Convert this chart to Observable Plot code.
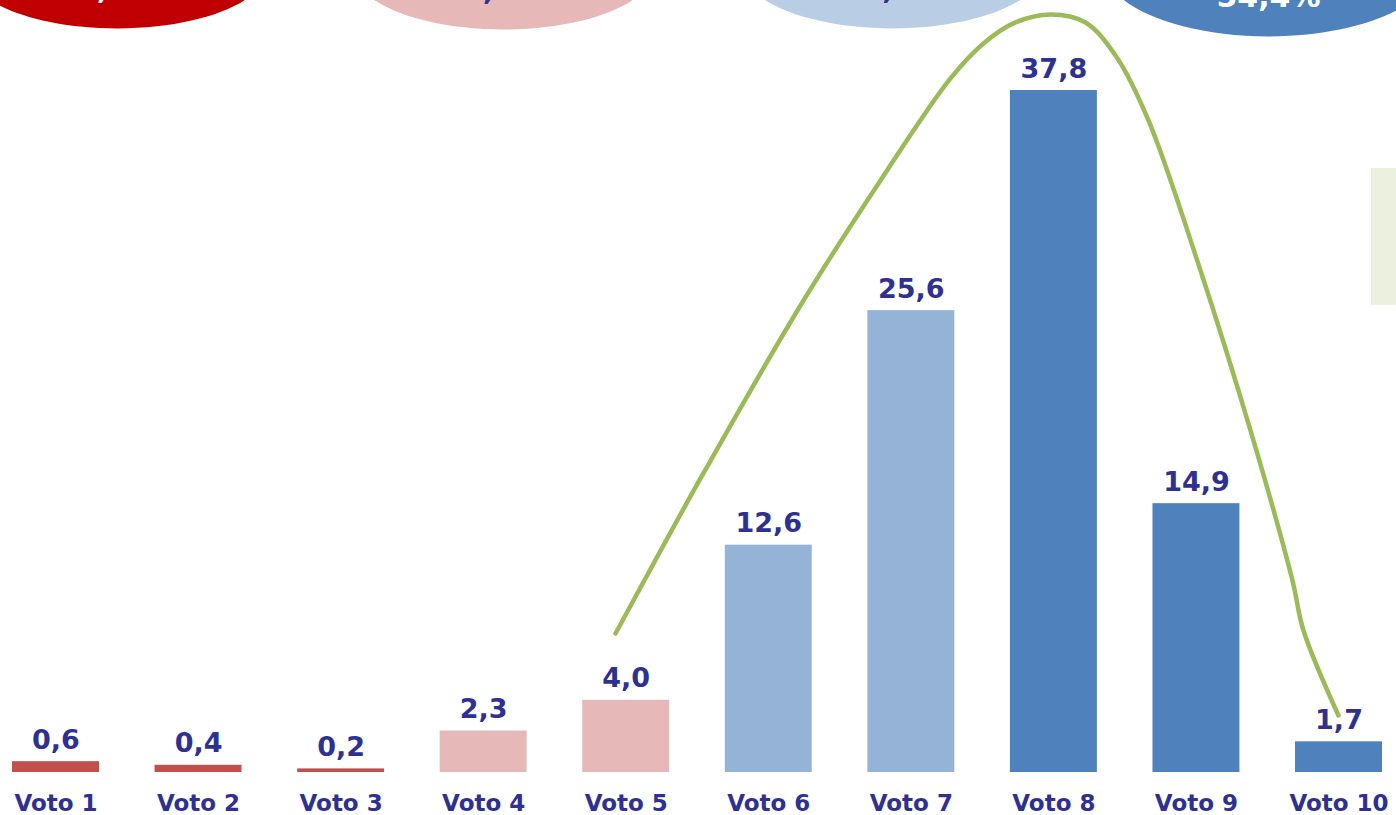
<!DOCTYPE html>
<html>
<head>
<meta charset="utf-8">
<script src="https://cdn.jsdelivr.net/npm/d3@7"></script>
<script src="https://cdn.jsdelivr.net/npm/@observablehq/plot@0.6"></script>
<style>
  html, body { margin: 0; padding: 0; background: #ffffff; overflow: hidden; }
  #chart svg { overflow: hidden; display: block; }
</style>
</head>
<body>
<div id="chart"></div>
<script>
// ---- data ----
const votes = ["Voto 1", "Voto 2", "Voto 3", "Voto 4", "Voto 5", "Voto 6", "Voto 7", "Voto 8", "Voto 9", "Voto 10"];
const values = [0.6, 0.4, 0.2, 2.3, 4.0, 12.6, 25.6, 37.8, 14.9, 1.7];
const groups = ["g1", "g1", "g1", "g2", "g2", "g3", "g3", "g4", "g4", "g4"];
const groupNames = ["g1", "g2", "g3", "g4"];
// hand-drawn green annotation curve, in (vote position, percent) units
const curveVoto = [4.925, 5.0505, 5.5209, 6.2224, 6.7835, 7.2746, 7.5060, 7.7305, 7.9760, 8.2215, 8.4460, 8.6634, 9.0282, 9.3789, 9.6735, 9.7507, 9.9962];
const curvePct  = [7.705, 9.534, 16.297, 25.887, 32.816, 38.470, 40.410, 41.574, 42.018, 41.574, 39.579, 36.142, 27.827, 18.958, 10.643, 7.871, 3.160];

// ---- derived tables ----
const fmt = v => d3.format(".1f")(v).replace(".", ",");
const bars = votes.map((v, i) => ({label: v, pos: i + 1, value: values[i], group: groups[i]}));
const totals = groupNames.map(g => d3.sum(bars.filter(b => b.group === g), b => b.value));
const curve = curveVoto.map((x, i) => ({x, y: curvePct[i]}));

// ---- styling / layout ----
const barColors = ["#c0504d", "#e6b9b8", "#95b3d7", "#4f81bd"];
const ellipseColors = ["#c00000", "#e6b9b8", "#b9cde5", "#4f81bd"];
const ellipseText = ["#ffffff", "#2e3192", "#2e3192", "#ffffff"];
const ellipseX = [1.431, 4.139, 6.868, 9.505];
const ellipseY = [44.57, 44.51, 44.57, 44.68];
const ellipseA = [150, 150, 150, 165];
const ellipseB = [60, 60, 60, 70];
const ellipseDy = [31, 31, 31, 41];
const navy = "#2e3192";
const half = 0.305;

function ellipse(a, b) {
  const k = 0.5522847;
  return {
    draw(c) {
      c.moveTo(a, 0);
      c.bezierCurveTo(a, b * k, a * k, b, 0, b);
      c.bezierCurveTo(-a * k, b, -a, b * k, -a, 0);
      c.bezierCurveTo(-a, -b * k, -a * k, -b, 0, -b);
      c.bezierCurveTo(a * k, -b, a, -b * k, a, 0);
      c.closePath();
    }
  };
}

const ellipseMarks = groupNames.flatMap((g, i) => [
  Plot.dot([{x: ellipseX[i], y: ellipseY[i]}], {x: "x", y: "y", symbol: ellipse(ellipseA[i], ellipseB[i]), r: 10, fill: ellipseColors[i], stroke: "none"}),
  Plot.text([{x: ellipseX[i], y: ellipseY[i], t: fmt(totals[i]) + "%"}], {x: "x", y: "y", text: "t", dy: ellipseDy[i], lineAnchor: "bottom", fill: ellipseText[i], fontSize: 30, fontWeight: "bold", fontFamily: "DejaVu Sans"})
]);

const chart = Plot.plot({
  width: 1396,
  height: 815,
  marginTop: 0,
  marginBottom: 43,
  marginLeft: 0,
  marginRight: 0,
  style: {background: "#ffffff", overflow: "hidden"},
  x: {domain: [0.6107, 10.4033], axis: null},
  y: {domain: [0, 42.79], axis: null},
  color: {domain: groupNames, range: barColors},
  marks: [
    ...ellipseMarks,
    Plot.rect([{x1: 10.228, x2: 10.6, y1: 25.89, y2: 33.48}], {x1: "x1", x2: "x2", y1: "y1", y2: "y2", fill: "#ebf1de"}),
    Plot.rectY(bars, {x1: d => d.pos - half, x2: d => d.pos + half, y: "value", fill: "group"}),
    Plot.text(bars, {x: "pos", y: "value", text: d => fmt(d.value), dy: -13, lineAnchor: "bottom", fill: navy, fontSize: 27, fontWeight: "bold", fontFamily: "DejaVu Sans"}),
    Plot.text(bars, {x: "pos", y: () => 0, text: "label", dy: 31, lineAnchor: "middle", fill: navy, fontSize: 23, fontWeight: "bold", fontFamily: "DejaVu Sans"}),
    Plot.line(curve, {x: "x", y: "y", curve: "catmull-rom", stroke: "#9bbb59", strokeWidth: 4.5, strokeLinecap: "round"})
  ]
});
document.getElementById("chart").appendChild(chart);
</script>
</body>
</html>
